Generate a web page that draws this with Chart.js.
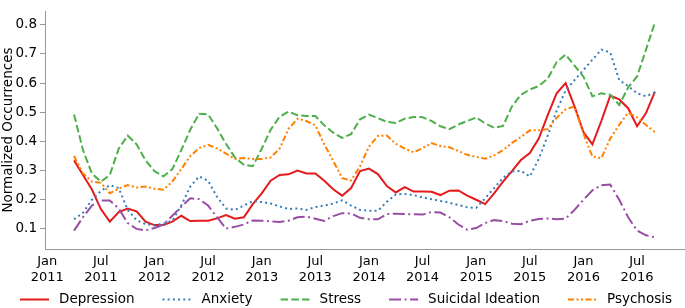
<!DOCTYPE html>
<html>
<head>
<meta charset="utf-8">
<script src="https://cdn.jsdelivr.net/npm/chart.js@4.4.1/dist/chart.umd.min.js"></script>
<style>
  html, body { margin: 0; padding: 0; background: #fff; }
</style>
</head>
<body>
<canvas id="chart" width="685" height="308"></canvas>
<script>
// monthly points, Apr 2011 - Sep 2016
var months = [
  '2011-04','2011-05','2011-06','2011-07','2011-08','2011-09','2011-10','2011-11','2011-12',
  '2012-01','2012-02','2012-03','2012-04','2012-05','2012-06','2012-07','2012-08','2012-09','2012-10','2012-11','2012-12',
  '2013-01','2013-02','2013-03','2013-04','2013-05','2013-06','2013-07','2013-08','2013-09','2013-10','2013-11','2013-12',
  '2014-01','2014-02','2014-03','2014-04','2014-05','2014-06','2014-07','2014-08','2014-09','2014-10','2014-11','2014-12',
  '2015-01','2015-02','2015-03','2015-04','2015-05','2015-06','2015-07','2015-08','2015-09','2015-10','2015-11','2015-12',
  '2016-01','2016-02','2016-03','2016-04','2016-05','2016-06','2016-07','2016-08','2016-09'
];

var depression = [
  0.335, 0.285, 0.235, 0.168, 0.125, 0.158, 0.170, 0.160, 0.125,
  0.113, 0.113, 0.125, 0.145, 0.127, 0.128, 0.128, 0.136, 0.147, 0.135, 0.140, 0.185,
  0.222, 0.265, 0.285, 0.287, 0.300, 0.290, 0.290, 0.265, 0.236, 0.214, 0.240, 0.298,
  0.307, 0.288, 0.247, 0.225, 0.243, 0.228, 0.228, 0.227, 0.216, 0.231, 0.232, 0.214,
  0.200, 0.185, 0.222, 0.262, 0.298, 0.336, 0.360, 0.410, 0.490, 0.565, 0.600, 0.520,
  0.432, 0.390, 0.470, 0.557, 0.544, 0.514, 0.452, 0.497, 0.571
];
var anxiety = [
  0.133, 0.155, 0.200, 0.230, 0.250, 0.240, 0.165, 0.130, 0.116,
  0.112, 0.118, 0.128, 0.180, 0.245, 0.280, 0.265, 0.210, 0.170, 0.165, 0.180, 0.195,
  0.192, 0.187, 0.177, 0.168, 0.170, 0.165, 0.175, 0.180, 0.187, 0.198, 0.180, 0.165,
  0.162, 0.162, 0.193, 0.218, 0.220, 0.216, 0.208, 0.202, 0.196, 0.190, 0.182, 0.174,
  0.172, 0.205, 0.240, 0.275, 0.297, 0.299, 0.280, 0.340, 0.420, 0.505, 0.575, 0.610,
  0.645, 0.680, 0.715, 0.705, 0.610, 0.590, 0.565, 0.555, 0.568
];
var stress = [
  0.492, 0.370, 0.290, 0.262, 0.285, 0.375, 0.420, 0.390, 0.335,
  0.298, 0.280, 0.305, 0.370, 0.440, 0.495, 0.493, 0.445, 0.392, 0.345, 0.320, 0.315,
  0.375, 0.440, 0.485, 0.502, 0.490, 0.487, 0.487, 0.455, 0.430, 0.412, 0.425, 0.476,
  0.492, 0.480, 0.467, 0.463, 0.478, 0.484, 0.483, 0.470, 0.452, 0.442, 0.458, 0.470,
  0.482, 0.462, 0.447, 0.453, 0.520, 0.560, 0.578, 0.590, 0.615, 0.672, 0.698, 0.660,
  0.622, 0.555, 0.565, 0.560, 0.525, 0.585, 0.623, 0.715, 0.808
];
var suicidal = [
  0.094, 0.140, 0.180, 0.197, 0.197, 0.170, 0.120, 0.100, 0.095,
  0.103, 0.115, 0.145, 0.176, 0.205, 0.202, 0.180, 0.140, 0.101, 0.107, 0.115, 0.129,
  0.128, 0.126, 0.124, 0.128, 0.140, 0.142, 0.135, 0.127, 0.144, 0.154, 0.153, 0.138,
  0.133, 0.133, 0.151, 0.152, 0.151, 0.150, 0.149, 0.158, 0.156, 0.140, 0.115, 0.097,
  0.103, 0.120, 0.130, 0.127, 0.118, 0.116, 0.128, 0.134, 0.136, 0.133, 0.135, 0.165,
  0.200, 0.232, 0.250, 0.252, 0.200, 0.140, 0.094, 0.078, 0.071
];
var psychosis = [
  0.350, 0.290, 0.262, 0.258, 0.222, 0.238, 0.250, 0.242, 0.245,
  0.238, 0.234, 0.262, 0.305, 0.350, 0.377, 0.388, 0.376, 0.358, 0.340, 0.343, 0.340,
  0.340, 0.345, 0.375, 0.443, 0.478, 0.470, 0.455, 0.390, 0.333, 0.274, 0.266, 0.315,
  0.382, 0.419, 0.420, 0.392, 0.375, 0.363, 0.377, 0.394, 0.384, 0.380, 0.367, 0.354,
  0.347, 0.341, 0.352, 0.370, 0.395, 0.415, 0.438, 0.438, 0.442, 0.481, 0.510, 0.520,
  0.427, 0.348, 0.342, 0.410, 0.457, 0.499, 0.483, 0.456, 0.432
];

var xTickMonths = ['2011-01','2011-07','2012-01','2012-07','2013-01','2013-07',
                   '2014-01','2014-07','2015-01','2015-07','2016-01','2016-07'];
var yTicks = [0.1, 0.2, 0.3, 0.4, 0.5, 0.6, 0.7, 0.8];
var monthNames = ['Jan','Feb','Mar','Apr','May','Jun','Jul','Aug','Sep','Oct','Nov','Dec'];

// months since Jan 2011, used as the x value
function monthIndex(s) {
  var p = s.split('-');
  return (+p[0] - 2011) * 12 + (+p[1] - 1);
}
function toPoints(values) {
  return values.map(function(v, i) { return {x: monthIndex(months[i]), y: v}; });
}

var series = [
  {label: 'Depression', data: depression, color: '#e41a1c', dash: []},
  {label: 'Anxiety', data: anxiety, color: '#377eb8', dash: [2, 3.2]},
  {label: 'Stress', data: stress, color: '#4daf4a', dash: [7.5, 3.2]},
  {label: 'Suicidal Ideation', data: suicidal, color: '#984ea3', dash: [12, 3.5, 2, 3.5]},
  {label: 'Psychosis', data: psychosis, color: '#ff7f00', dash: [6, 2.5, 2, 2.5, 2, 2.5]}
];

// legend in one row under the axis, line sample + text
var lineLegend = {
  id: 'lineLegend',
  afterDraw: function(chart) {
    var ctx = chart.ctx;
    var sampleW = 29, gap = 10, spacing = 28, y = 299.5;
    ctx.save();
    ctx.font = '13.5px "DejaVu Sans"';
    var widths = chart.data.datasets.map(function(ds) {
      return sampleW + gap + ctx.measureText(ds.label).width;
    });
    var total = widths.reduce(function(a, b) { return a + b; }, 0) + spacing * (widths.length - 1);
    var x = 346 - total / 2;
    chart.data.datasets.forEach(function(ds, i) {
      ctx.strokeStyle = ds.borderColor;
      ctx.lineWidth = ds.borderWidth;
      ctx.setLineDash(ds.borderDash);
      ctx.beginPath();
      ctx.moveTo(x, y);
      ctx.lineTo(x + sampleW, y);
      ctx.stroke();
      ctx.setLineDash([]);
      ctx.fillStyle = '#000';
      ctx.textBaseline = 'middle';
      ctx.textAlign = 'left';
      ctx.fillText(ds.label, x + sampleW + gap, y);
      x += widths[i] + spacing;
    });
    ctx.restore();
  }
};

Chart.defaults.font.family = '"DejaVu Sans", sans-serif';
Chart.defaults.color = '#000';

var chart = new Chart('chart', {
  type: 'line',
  data: {
    datasets: series.map(function(s, i) {
      return {
        label: s.label,
        data: toPoints(s.data),
        borderColor: s.color,
        backgroundColor: s.color,
        borderWidth: 2,
        borderDash: s.dash,
        pointRadius: 0,
        tension: 0,
        fill: false,
        order: series.length - i
      };
    })
  },
  options: {
    responsive: false,
    animation: false,
    layout: {padding: {left: 0, right: 1, top: 0, bottom: 19}},
    plugins: {
      legend: {display: false},
      tooltip: {enabled: false}
    },
    scales: {
      x: {
        type: 'linear',
        min: -0.25,
        max: 71.25,
        afterBuildTicks: function(scale) {
          scale.ticks = xTickMonths.map(function(m) { return {value: monthIndex(m)}; });
        },
        afterFit: function(scale) { scale.height = 40; },
        grid: {display: false, drawTicks: false},
        border: {display: true, color: '#999', width: 1},
        ticks: {
          autoSkip: false,
          maxRotation: 0,
          padding: 5,
          font: {size: 13},
          callback: function(value, index) {
            var m = xTickMonths[index].split('-');
            return [monthNames[+m[1] - 1], m[0]];
          }
        }
      },
      y: {
        min: 0.031,
        max: 0.847,
        afterBuildTicks: function(scale) {
          scale.ticks = yTicks.map(function(v) { return {value: v}; });
        },
        afterFit: function(scale) { scale.width = 45; },
        grid: {drawOnChartArea: false, drawTicks: true, tickLength: 5, color: '#999'},
        border: {display: true, color: '#999', width: 1},
        ticks: {
          padding: 3,
          font: {size: 13.5},
          callback: function(v) { return v.toFixed(1); }
        },
        title: {
          display: true,
          text: 'Normalized Occurrences',
          font: {size: 13.5},
          padding: {top: 0, bottom: 0}
        }
      }
    }
  },
  plugins: [lineLegend]
});
</script>
</body>
</html>
